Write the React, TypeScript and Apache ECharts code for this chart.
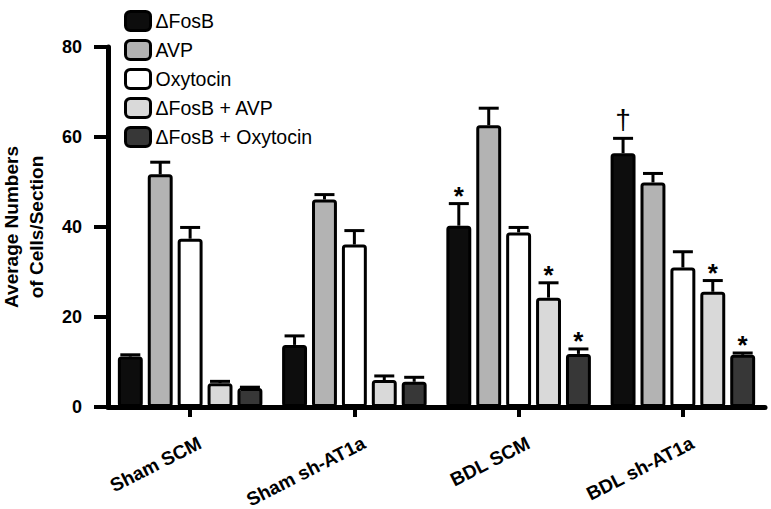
import React, { useEffect, useRef } from "react";
import * as echarts from "echarts";

const categories = ["Sham SCM", "Sham sh-AT1a", "BDL SCM", "BDL sh-AT1a"];
const seriesNames = ["\u0394FosB", "AVP", "Oxytocin", "\u0394FosB + AVP", "\u0394FosB + Oxytocin"];
const fosB = [11.2, 13.8, 40.3, 56.4];
const avp = [51.7, 46.1, 62.6, 49.9];
const oxy = [37.4, 36.1, 38.8, 31.0];
const fosAvp = [5.3, 6.0, 24.3, 25.6];
const fosOxy = [4.2, 5.6, 11.8, 11.6];
const fosBErr = [0.4, 2.0, 4.9, 3.3];
const avpErr = [2.7, 1.1, 3.8, 2.0];
const oxyErr = [2.5, 3.1, 1.1, 3.5];
const fosAvpErr = [0.4, 0.9, 3.3, 2.5];
const fosOxyErr = [0.2, 1.0, 1.1, 0.4];
const fosBMarks = ["", "", "*", "\u2020"];
const avpMarks = ["", "", "", ""];
const oxyMarks = ["", "", "", ""];
const fosAvpMarks = ["", "", "*", "*"];
const fosOxyMarks = ["", "", "*", "*"];
const yTicks = [0, 20, 40, 60, 80];
const yTitleLines = ["Average Numbers", "of Cells/Section"];

const colors = ["#0d0d0d", "#b3b3b3", "#ffffff", "#d9d9d9", "#373737"];
const FONT = "'Liberation Sans', Arial, sans-serif";

export default function App() {
  const ref = useRef<HTMLDivElement>(null);
  useEffect(() => {
    if (!ref.current) return;
    const chart = echarts.init(ref.current, null, { renderer: "svg" });
    const values = [fosB, avp, oxy, fosAvp, fosOxy];
    const errs = [fosBErr, avpErr, oxyErr, fosAvpErr, fosOxyErr];
    const marks = [fosBMarks, avpMarks, oxyMarks, fosAvpMarks, fosOxyMarks];
    const n = seriesNames.length;
    const catGap = 0.12;
    const barGap = 0.2;

    const barSeries = seriesNames.map((name, i) => ({
      name,
      type: "bar",
      data: values[i],
      barCategoryGap: "12%",
      barGap: "20%",
      itemStyle: {
        color: colors[i],
        borderColor: "#000",
        borderWidth: 3,
        borderRadius: 2,
      },
      z: 3,
    }));

    const errSeries = seriesNames.map((_, si) => ({
      type: "custom",
      data: values[si].map((v, ci) => [ci, v, errs[si][ci]]),
      encode: { x: 0, y: 1 },
      z: 2,
      renderItem: (params: any, api: any) => {
        const ci = api.value(0);
        const v = api.value(1);
        const e = api.value(2);
        const top = api.coord([ci, v]);
        const cap = api.coord([ci, v + e]);
        const catW = api.size([1, 0])[0];
        const usable = catW * (1 - catGap);
        const bw = usable / (n + (n - 1) * barGap);
        const x = top[0] - usable / 2 + si * bw * (1 + barGap) + bw / 2;
        const children: any[] = [
          {
            type: "line",
            shape: { x1: x, y1: top[1], x2: x, y2: cap[1] },
            style: { stroke: "#000", lineWidth: 3 },
          },
          {
            type: "line",
            shape: { x1: x - 10, y1: cap[1], x2: x + 10, y2: cap[1] },
            style: { stroke: "#000", lineWidth: 3 },
          },
        ];
        const m = marks[si][params.dataIndex];
        if (m) {
          const isDagger = m !== "*";
          children.push({
            type: "text",
            x: x,
            y: isDagger ? cap[1] - 5 : cap[1] + 5,
            style: {
              text: m,
              fill: "#000",
              font: isDagger ? `normal 28px ${FONT}` : `bold 26px ${FONT}`,
              textAlign: "center",
              textVerticalAlign: "bottom",
            },
          });
        }
        return { type: "group", children };
      },
    }));

    chart.setOption({
      animation: false,
      backgroundColor: "#fff",
      grid: { left: 108, right: 6, top: 47, bottom: 102, containLabel: false, outerBoundsMode: "none" },
      legend: {
        data: seriesNames,
        orient: "vertical",
        left: 119,
        top: 5,
        itemWidth: 25,
        itemHeight: 19,
        itemGap: 7,
        textStyle: { fontFamily: FONT, fontSize: 19.5, color: "#000" },
        itemStyle: { borderColor: "#000", borderWidth: 3 },
      },
      xAxis: {
        type: "category",
        data: categories,
        axisLine: { show: true, lineStyle: { color: "#000", width: 5 } },
        axisTick: { show: true, alignWithLabel: true, length: 10, lineStyle: { color: "#000", width: 4 } },
        axisLabel: {
          rotate: 27,
          margin: 29,
          fontFamily: FONT,
          fontSize: 19,
          fontWeight: "bold",
          color: "#000",
          interval: 0,
          verticalAlign: "top",
          padding: [0, -6, 0, 0],
        },
      },
      yAxis: {
        type: "value",
        min: yTicks[0],
        max: yTicks[yTicks.length - 1],
        interval: 20,
        splitLine: { show: false },
        axisLine: { show: true, lineStyle: { color: "#000", width: 5 } },
        axisTick: { show: true, length: 14, lineStyle: { color: "#000", width: 4 } },
        axisLabel: {
          margin: 26,
          fontFamily: FONT,
          fontSize: 18,
          fontWeight: "bold",
          color: "#000",
        },
      },
      graphic: yTitleLines.map((t, i) => ({
        type: "text",
        x: 11 + i * 25,
        y: 227,
        rotation: Math.PI / 2,
        style: {
          text: t,
          font: `bold 19px ${FONT}`,
          fill: "#000",
          textAlign: "center",
          textVerticalAlign: "middle",
        },
      })),
      series: [...barSeries, ...errSeries],
    });
    return () => chart.dispose();
  }, []);
  return <div ref={ref} style={{ width: 771, height: 509, position: "absolute", left: 0, top: 0 }} />;
}
